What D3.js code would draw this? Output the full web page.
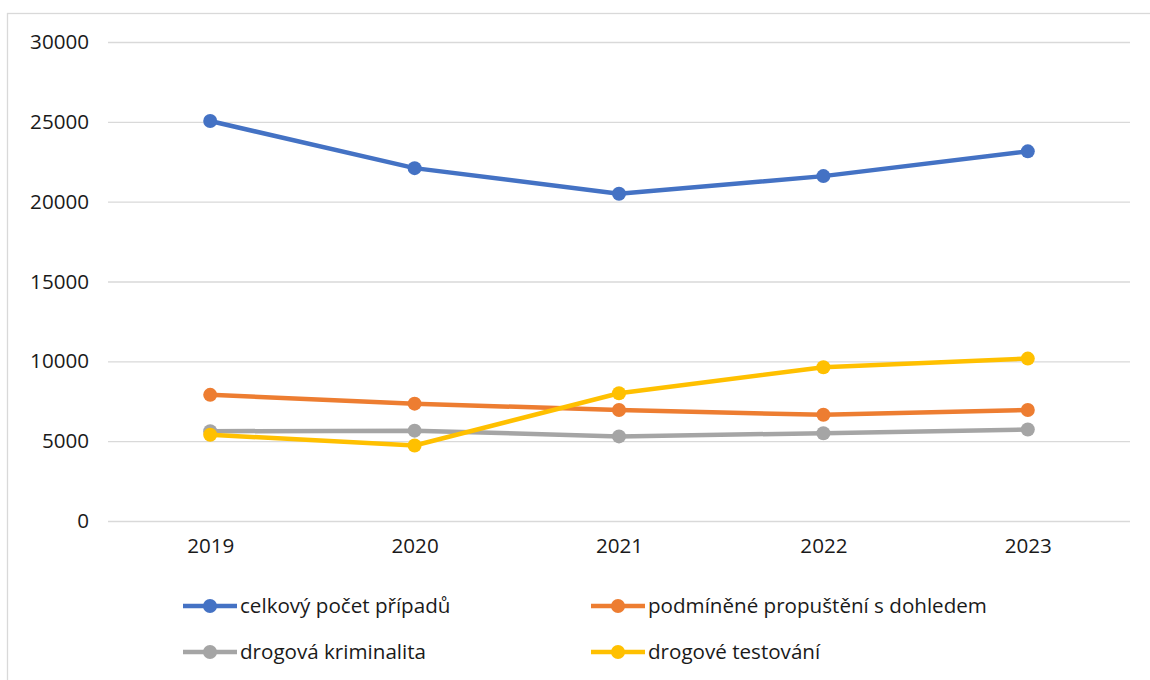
<!DOCTYPE html>
<html>
<head>
<meta charset="utf-8">
<script src="https://cdn.jsdelivr.net/npm/d3@7"></script>
<style>
  html, body { margin: 0; padding: 0; background: #fff; }
  svg { display: block; font-family: "Open Sans", Lato, sans-serif; }
</style>
</head>
<body>
<svg id="chart" width="1150" height="680"></svg>
<script>
/* line chart — yearly case counts, four series */

const years = ['2019', '2020', '2021', '2022', '2023'];
const yTicks = [0, 5000, 10000, 15000, 20000, 25000, 30000];

const celkovy = [25050, 22100, 20500, 21600, 23150];
const podminene = [7900, 7350, 6950, 6650, 6950];
const drogovaKrim = [5620, 5660, 5300, 5500, 5730];
const drogoveTest = [5400, 4730, 8000, 9630, 10170];

const seriesNames = [
  'celkový počet případů',
  'podmíněné propuštění s dohledem',
  'drogová kriminalita',
  'drogové testování',
];
const seriesColors = ['#4472C4', '#ED7D31', '#A5A5A5', '#FFC000'];
const series = [celkovy, podminene, drogovaKrim, drogoveTest].map((values, i) => ({
  name: seriesNames[i], color: seriesColors[i], values,
}));

const FONT = '"Open Sans", Lato, sans-serif';
const FS = 20.6;

const svg = d3.select('#chart');
const m = { l: 108, r: 1130, t: 42, b: 521 };

const x = d3.scalePoint().domain(years).range([m.l, m.r]).padding(0.5);
const y = d3.scaleLinear().domain([0, 30000]).range([m.b, m.t]);

// chart frame (right and bottom edges run off the picture)
svg.append('rect')
  .attr('x', 7.5).attr('y', 13.5).attr('width', 1160).attr('height', 700)
  .attr('fill', 'none').attr('stroke', '#d9d9d9').attr('stroke-width', 1.3);

// gridlines + y labels
const yAxis = d3.axisLeft(y).tickValues(yTicks).tickSize(-(m.r - m.l)).tickPadding(19)
  .tickFormat(d3.format('d'));
const gy = svg.append('g').attr('transform', `translate(${m.l},0)`).call(yAxis);
gy.select('.domain').remove();
gy.selectAll('.tick line').attr('stroke', '#d9d9d9').attr('stroke-width', 1.3);
gy.selectAll('.tick text').attr('font-size', FS).attr('fill', '#1a1a1a')
  .attr('font-family', FONT);

// x labels
const xAxis = d3.axisBottom(x).tickSize(0).tickPadding(17);
const gx = svg.append('g').attr('transform', `translate(0,${m.b})`).call(xAxis);
gx.select('.domain').remove();
gx.selectAll('.tick text').attr('font-size', FS).attr('fill', '#1a1a1a')
  .attr('font-family', FONT);

// lines + markers
const line = d3.line().x((d, i) => x(years[i])).y(d => y(d));
series.forEach(s => {
  const g = svg.append('g');
  g.append('path').attr('d', line(s.values))
    .attr('fill', 'none').attr('stroke', s.color).attr('stroke-width', 4.5)
    .attr('stroke-linejoin', 'round');
  g.selectAll('circle').data(s.values).join('circle')
    .attr('cx', (d, i) => x(years[i])).attr('cy', d => y(d)).attr('r', 7)
    .attr('fill', s.color);
});

// legend, 2 x 2
const legPos = [[183, 606], [591, 606], [183, 652], [591, 652]];
series.forEach((s, i) => {
  const [lx, ly] = legPos[i];
  const g = svg.append('g').attr('transform', `translate(${lx},${ly})`);
  g.append('line').attr('x1', 0).attr('x2', 54).attr('y1', 0).attr('y2', 0)
    .attr('stroke', s.color).attr('stroke-width', 4.5);
  g.append('circle').attr('cx', 27).attr('cy', 0).attr('r', 7).attr('fill', s.color);
  g.append('text').attr('x', 57).attr('y', 0).attr('dy', '0.35em')
    .attr('font-size', FS).attr('fill', '#1a1a1a').text(s.name);
});
</script>
</body>
</html>
